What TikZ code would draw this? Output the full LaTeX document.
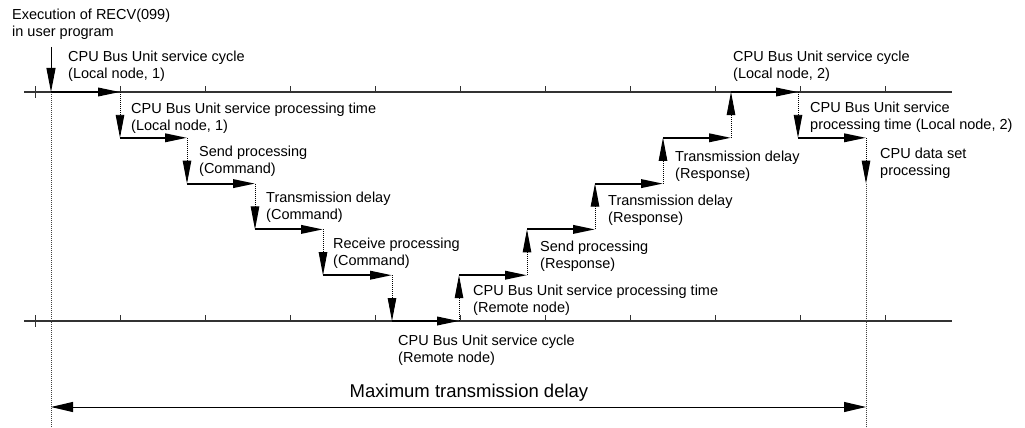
\documentclass[tikz,border=0pt]{standalone}
\usepackage{fontspec}
\setmainfont{Liberation Sans}
\usetikzlibrary{arrows.meta}
\begin{document}
\begin{tikzpicture}[x=1pt,y=-1pt,
  lbl/.style={anchor=west,align=left,inner sep=0pt,font=\fontsize{14.5pt}{17pt}\selectfont},
  biglbl/.style={anchor=center,inner sep=0pt,font=\fontsize{18.5pt}{22pt}\selectfont},
  axisline/.style={line width=1.1pt,black!80},
  tickline/.style={line width=0.9pt,black!80},
  hstep/.style={line width=2pt,-{Triangle[length=22pt,width=8.5pt]}},
  vstep/.style={line width=0.9pt,dash pattern=on 1pt off 1pt,-{Triangle[length=23pt,width=8.5pt]}},
  guide/.style={line width=0.8pt,dash pattern=on 1pt off 1pt,black!75},
  startarrow/.style={line width=1pt,-{Triangle[length=24pt,width=9pt]}},
  spanarrow/.style={line width=1pt,{Triangle[length=22pt,width=10pt]}-{Triangle[length=22pt,width=10pt]}}
]
\useasboundingbox (0,0) rectangle (1025,428);

% axes
\coordinate (ta0) at (24,92);
\coordinate (ta1) at (952,92);
\coordinate (ba0) at (24,321);
\coordinate (ba1) at (952,321);
\draw[axisline] (ta0) -- (ta1);
\draw[axisline] (ba0) -- (ba1);
\draw[tickline] (35,86) -- (35,98);
\draw[tickline] (35,315) -- (35,327);
\foreach \x in {120,205,290,375,460,545,630,715,800,885}{
  \draw[tickline] (\x,86) -- (\x,92);
  \draw[tickline] (\x,315) -- (\x,321);
}

% step corners
\coordinate (s0) at (51,47);
\coordinate (p0) at (51,92);
\coordinate (a1) at (120,92);   \coordinate (b1) at (120,137.8);
\coordinate (a2) at (187,137.8); \coordinate (b2) at (187,183.6);
\coordinate (a3) at (255,183.6); \coordinate (b3) at (255,229.4);
\coordinate (a4) at (323,229.4); \coordinate (b4) at (323,275.2);
\coordinate (a5) at (392,275.2); \coordinate (b5) at (392,321);
\coordinate (a6) at (459,321);   \coordinate (b6) at (459,275.2);
\coordinate (a7) at (527,275.2); \coordinate (b7) at (527,229.4);
\coordinate (a8) at (595,229.4); \coordinate (b8) at (595,183.6);
\coordinate (a9) at (663,183.6); \coordinate (b9) at (663,137.8);
\coordinate (a10) at (731,137.8); \coordinate (b10) at (731,92);
\coordinate (a11) at (798,92);   \coordinate (b11) at (798,137.8);
\coordinate (a12) at (866,137.8); \coordinate (b12) at (866,183.6);
\coordinate (g0) at (51,428);
\coordinate (g1) at (866,428);

% guide lines
\draw[guide] (p0) -- (g0);
\draw[guide] (b12) -- (g1);

% start
\draw[startarrow] (s0) -- (p0);

% steps
\draw[hstep] (p0) -- (a1);
\draw[vstep] (a1) -- (b1);
\draw[hstep] (b1) -- (a2);
\draw[vstep] (a2) -- (b2);
\draw[hstep] (b2) -- (a3);
\draw[vstep] (a3) -- (b3);
\draw[hstep] (b3) -- (a4);
\draw[vstep] (a4) -- (b4);
\draw[hstep] (b4) -- (a5);
\draw[vstep] (a5) -- (b5);
\draw[hstep] (b5) -- (a6);
\draw[vstep] (a6) -- (b6);
\draw[hstep] (b6) -- (a7);
\draw[vstep] (a7) -- (b7);
\draw[hstep] (b7) -- (a8);
\draw[vstep] (a8) -- (b8);
\draw[hstep] (b8) -- (a9);
\draw[vstep] (a9) -- (b9);
\draw[hstep] (b9) -- (a10);
\draw[vstep] (a10) -- (b10);
\draw[hstep] (b10) -- (a11);
\draw[vstep] (a11) -- (b11);
\draw[hstep] (b11) -- (a12);
\draw[vstep] (a12) -- (b12);

% span arrow
\coordinate (m0) at (51,407);
\coordinate (m1) at (866,407);
\draw[spanarrow] (m0) -- (m1);

% labels
\node[lbl] (exec) at (12,24) {Execution of RECV(099)\\in user program};
\node[lbl] (lc1) at (68,66) {CPU Bus Unit service cycle\\(Local node, 1)};
\node[lbl] (lp1) at (131,118) {CPU Bus Unit service processing time\\(Local node, 1)};
\node[lbl] (sc) at (199,161) {Send processing\\(Command)};
\node[lbl] (tc) at (266,207) {Transmission delay\\(Command)};
\node[lbl] (rc) at (333,253) {Receive processing\\(Command)};
\node[lbl] (rp) at (473,300) {CPU Bus Unit service processing time\\(Remote node)};
\node[lbl] (rcy) at (398,350) {CPU Bus Unit service cycle\\(Remote node)};
\node[lbl] (sr) at (540,256) {Send processing\\(Response)};
\node[lbl] (tr1) at (608,210) {Transmission delay\\(Response)};
\node[lbl] (tr2) at (675,166) {Transmission delay\\(Response)};
\node[lbl] (lc2) at (733,66) {CPU Bus Unit service cycle\\(Local node, 2)};
\node[lbl] (lp2) at (810,117) {CPU Bus Unit service\\processing time (Local node, 2)};
\node[lbl] (cds) at (880,163) {CPU data set\\processing};
\node[biglbl] (mtd) at (469,393) {Maximum transmission delay};
\end{tikzpicture}
\end{document}
